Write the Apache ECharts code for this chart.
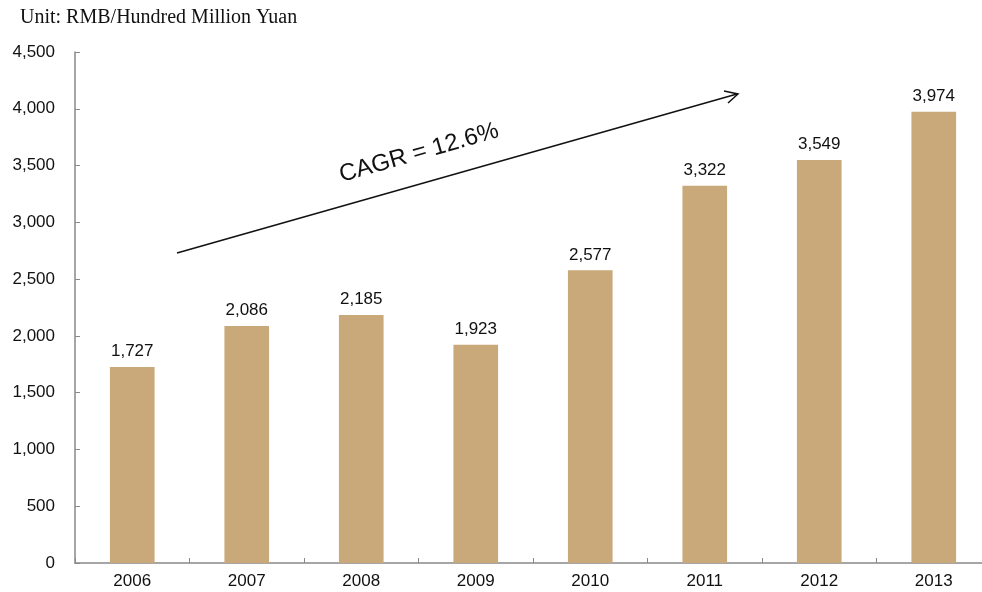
<!DOCTYPE html>
<html>
<head>
<meta charset="utf-8">
<script src="https://cdn.jsdelivr.net/npm/echarts@6/dist/echarts.min.js"></script>
<style>html,body{margin:0;padding:0;background:#fff;}#c{width:982px;height:592px;}</style>
</head>
<body>
<div id="c"></div>
<script>
var categories = ['2006','2007','2008','2009','2010','2011','2012','2013'];
var values = [1727, 2086, 2185, 1923, 2577, 3322, 3549, 3974];
var yTicks = [0, 500, 1000, 1500, 2000, 2500, 3000, 3500, 4000, 4500];
var unitText = 'Unit: RMB/Hundred Million Yuan';
var cagrText = 'CAGR = 12.6%';

var chart = echarts.init(document.getElementById('c'));
var fmt = function (v) { return Number(v).toLocaleString('en-US'); };
chart.setOption({
  animation: false,
  backgroundColor: '#fff',
  grid: { left: 75, width: 916, top: 52, height: 511, containLabel: false, outerBoundsMode: 'none' },
  xAxis: {
    type: 'category',
    data: categories,
    axisLine: { lineStyle: { color: '#898989', width: 1.5 } },
    axisTick: { show: true, inside: true, length: 5, lineStyle: { color: '#898989' } },
    axisLabel: { color: '#111', fontSize: 17, fontFamily: 'Liberation Sans, Arial', margin: 10 }
  },
  yAxis: {
    type: 'value',
    min: yTicks[0],
    max: yTicks[yTicks.length - 1],
    interval: 500,
    splitLine: { show: false },
    axisLine: { show: true, lineStyle: { color: '#898989', width: 1.5 } },
    axisTick: { show: true, inside: true, length: 5, lineStyle: { color: '#898989' } },
    axisLabel: { color: '#111', fontSize: 17, fontFamily: 'Liberation Sans, Arial', margin: 20, formatter: fmt }
  },
  series: [{
    type: 'bar',
    data: values,
    barWidth: '39%',
    itemStyle: { color: '#C9A87A' },
    label: {
      show: true, position: 'top', distance: 7,
      color: '#111', fontSize: 17, fontFamily: 'Liberation Sans, Arial',
      formatter: function (p) { return fmt(p.value); }
    }
  }],
  graphic: [
    { type: 'text', left: 20, top: 8,
      style: { text: unitText, fill: '#111', font: '20px "Liberation Serif", "Times New Roman", serif' } },
    { type: 'line', shape: { x1: 177, y1: 253, x2: 737, y2: 94 },
      style: { stroke: '#111', lineWidth: 1.5 } },
    { type: 'polyline', shape: { points: [[724, 91], [738, 94], [728, 103]] },
      style: { stroke: '#111', lineWidth: 1.5, fill: null } },
    { type: 'text', x: 419, y: 153, rotation: 16 * Math.PI / 180,
      style: { text: cagrText, fill: '#111', font: '24px "Liberation Sans", Arial', align: 'center', verticalAlign: 'middle' } }
  ]
});
</script>
</body>
</html>
